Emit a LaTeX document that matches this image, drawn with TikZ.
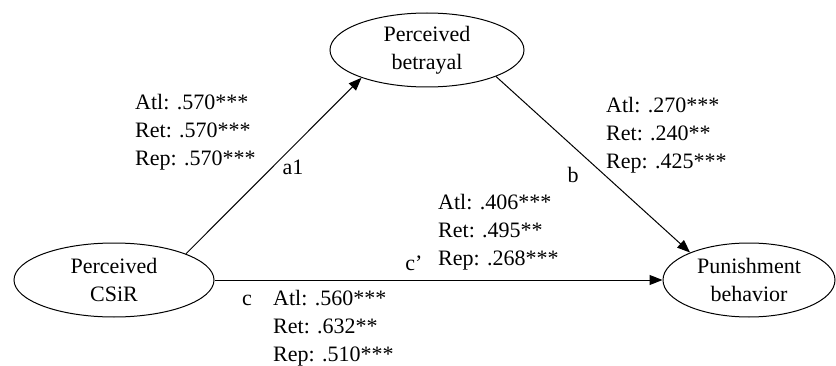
\documentclass[tikz,border=0pt]{standalone}
\usepackage{fontspec}
\setmainfont{Liberation Serif}
\usetikzlibrary{arrows.meta,shapes.geometric}
\usetikzlibrary{positioning}

\begin{document}
\begin{tikzpicture}[->,>={Triangle[length=13pt,width=10pt]}, x=1pt, y=1pt,
    every node/.style={font=\fontsize{22}{28}\selectfont},
    construct/.style={draw, ellipse, line width=1pt, align=center,
      inner xsep=0pt, inner ysep=-4pt,
      minimum width=200pt, minimum height=74pt},
    coef/.style={align=left, anchor=west, inner sep=0pt},
    pathname/.style={inner sep=0pt}]
    \useasboundingbox (0,0) rectangle (836,365);

    % CONSTRUCTS
    \node[construct] (CSIR) at (114,85)
    {
      Perceived\\CSiR
    };

    \node[construct,
      minimum width=194pt] (BETRAYAL) at (427,315)
    {
      Perceived\\betrayal
    };

    \node[construct,
      minimum width=172pt] (PUNISHMENT) at (749,85)
    {
      Punishment\\behavior
    };

    % COEFFICIENTS
    \node[coef] (A1_COEF) at (135,233)
    {
      Atl: .570***\\Ret: .570***\\Rep: .570***
    };

    \node[coef] (B_COEF) at (606,230)
    {
      Atl: .270***\\Ret: .240**\\Rep: .425***
    };

    \node[coef] (CPRIME_COEF) at (438,133)
    {
      Atl: .406***\\Ret: .495**\\Rep: .268***
    };

    \node[coef] (C_COEF) at (273,37)
    {
      Atl: .560***\\Ret: .632**\\Rep: .510***
    };

    % PATH NAMES
    \node[pathname] (A1) at (293,198) {a1};
    \node[pathname] (B) at (573,190) {b};
    \node[pathname] (CPRIME) at (414,102) {c'};
    \node[pathname] (C) at (247,65) {c};

    % LINES
    \path[line width=1pt]
    (CSIR.20) edge (BETRAYAL.203)
    (BETRAYAL.339) edge (PUNISHMENT.155)
    (CSIR) edge (PUNISHMENT)
    ;
\end{tikzpicture}
\end{document}
